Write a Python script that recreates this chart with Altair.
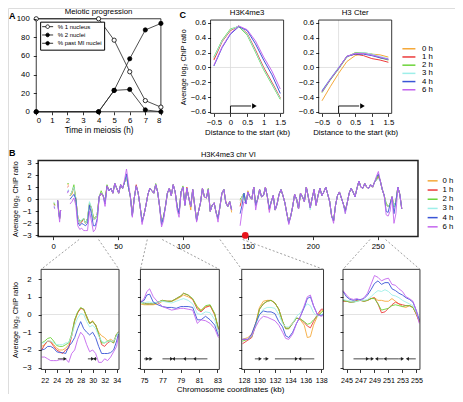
import altair as alt
import pandas as pd

W, H = 447, 386

# ---------------------------------------------------------------- data
TIMES = ["0 h", "1 h", "2 h", "3 h", "4 h", "6 h"]
TIME_COLORS = ["#F5A93A", "#EC3B3B", "#6CD43A", "#9EEFE9", "#3A55D6", "#C466EE"]

# Panel A : meiotic progression
A_TIME = [0, 4, 5, 6, 7, 8]
A_ONE = [100, 100, 77, 43, 12, 5]
A_TWO = [0, 0, 23, 24, 2, 0]
A_PAST = [0, 0, 23, 57, 88, 95]
A_SERIES = ["% 1 nucleus", "% 2 nuclei", "% past MI nuclei"]
A_FILLS = ["white", "black", "black"]
A_TICKS_X = [0, 1, 2, 3, 4, 5, 6, 7, 8]
A_TICKS_Y = [0, 20, 40, 60, 80, 100]

# Panel C : metagene profiles
C_X = [-0.5, -0.25, 0, 0.25, 0.5, 0.75, 1.0, 1.25, 1.5]
C_K4 = {
    "0 h": [0.12, 0.36, 0.50, 0.56, 0.45, 0.22, -0.02, -0.22, -0.42],
    "1 h": [0.10, 0.35, 0.50, 0.56, 0.46, 0.24, 0.00, -0.20, -0.41],
    "2 h": [0.14, 0.37, 0.52, 0.55, 0.44, 0.21, -0.03, -0.23, -0.43],
    "3 h": [0.13, 0.36, 0.51, 0.56, 0.45, 0.22, -0.02, -0.22, -0.42],
    "4 h": [0.02, 0.27, 0.45, 0.55, 0.50, 0.32, 0.10, -0.10, -0.35],
    "6 h": [0.03, 0.28, 0.46, 0.56, 0.51, 0.36, 0.14, -0.05, -0.29],
}
C_CTER = {
    "0 h": [-0.45, -0.26, -0.08, 0.08, 0.16, 0.19, 0.18, 0.17, 0.14],
    "1 h": [-0.32, -0.16, -0.01, 0.15, 0.18, 0.16, 0.12, 0.10, 0.07],
    "2 h": [-0.34, -0.17, -0.02, 0.14, 0.20, 0.20, 0.18, 0.13, 0.10],
    "3 h": [-0.31, -0.15, 0.00, 0.15, 0.19, 0.20, 0.18, 0.15, 0.12],
    "4 h": [-0.32, -0.16, -0.01, 0.15, 0.18, 0.18, 0.16, 0.13, 0.11],
    "6 h": [-0.33, -0.16, -0.01, 0.15, 0.19, 0.19, 0.17, 0.14, 0.11],
}
C_TICKS_X = [-0.5, 0, 0.5, 1, 1.5]
C_TICKS_Y = [-0.6, -0.4, -0.2, 0, 0.2, 0.4, 0.6]
C_TSS_X = [0, 0, 0.62]
C_TSS_Y = [-0.62, -0.52, -0.52]
C_TSS_HEAD = 0.72

# Panel B : whole chromosome VI profile
BM_KB = [0.5, 1.5, 3.5, 4.3, 5.0, 5.8, 11.0, 12.0,
         13, 14.5, 16, 17.5, 19, 20.5, 22, 23.5, 25, 26.5, 28, 29.5, 31, 32.5, 34, 35.5,
         37, 38.5, 40, 41.5, 43, 44.5, 46, 47.5, 49, 50.5, 52, 53.5, 55, 56.5, 58, 59.5,
         61, 62.5, 64, 65.5, 67, 68.5, 70, 71.5, 73, 74.5, 76, 77.5, 79, 80.5, 82, 83.5,
         85, 86.5, 88, 89.5, 91, 92.5, 94, 95.5, 97, 98.5, 100, 101.5, 103, 104.5, 106,
         107.5, 109, 110.5, 112, 113.5, 115, 116.5, 118, 119.5, 121, 122.5, 124, 125.5,
         127, 128.5, 130, 131.5, 133, 134.5, 136, 137.5,
         144, 145.5, 147, 148.5, 150, 151.5, 153, 154.5, 156, 157.5, 159, 160.5, 162,
         163.5, 165, 166.5, 168, 169.5, 171, 172.5, 174, 175.5, 177, 178.5, 180, 181.5,
         183, 184.5, 186, 187.5, 189, 190.5, 192, 193.5, 195, 196.5, 198, 199.5, 201,
         202.5, 204, 205.5, 207, 208.5, 210, 211.5, 213, 214.5, 216, 217.5, 219, 220.5,
         222, 223.5, 225, 226.5, 228, 229.5, 231, 232.5, 234, 235.5, 237, 238.5, 240,
         241.5, 243, 244.5, 246, 247.5, 249, 250.5, 252, 253.5, 255, 256.5, 258, 259.5,
         261, 262.5, 264, 265.5, 267, 268.5]
BM_BASE = [-0.4, -0.5, -0.1, -1.0, -1.6, -0.9, 0.9, 1.1,
           0.3, 0.6, 1.0, 0.0, -1.5, -2.0, -1.8, -1.6, -2.0, -1.6, -0.4, -0.7, -1.5, -1.6, -1.2, 0.2,
           0.5, 0.3, -0.2, 1.1, 0.7, 0.9, 0.5, 1.3, 0.9, 0.5, 1.2, 0.9, 1.4, 1.9, 1.0, 0.2,
           -1.3, 0.1, 1.1, 0.5, -0.6, -1.8, -1.3, -0.5, 0.4, 0.9, 0.7, 0.5, 1.2, 0.6, -0.6, -1.9,
           -1.5, -0.6, 0.5, 0.9, 0.3, 1.2, 0.6, -0.6, -1.2, 0.6, 1.0, -0.5, 0.9, 0.1, -0.6,
           0.8, -0.5, -1.7, -1.0, -0.3, 0.9, 0.2, 0.1, 0.8, -1.0, -0.5, -0.3, -1.1,
           -1.6, -0.6, 0.5, 0.8, -0.3, -0.6, -0.2, -0.9,
           -0.6, 0.2, 0.5, -0.4, 0.6, 0.2, 0.0, 1.0, -0.5, 0.0, 0.8, 0.2, 0.3,
           1.0, 0.2, -0.8, -0.2, 0.3, -0.9, -0.4, 0.4, 0.8, 0.3, -0.3, -1.2, -1.9,
           -1.4, -0.6, 0.4, 0.0, -0.8, 0.5, 0.2, -0.2, 1.0, 0.2, -0.7, 0.1, 0.8,
           -0.5, 0.3, 0.9, 0.3, 0.6, 1.0, 0.4, -0.2, -1.4, -1.8, -0.5, 0.3, 0.6,
           0.1, -0.4, -1.0, -0.3, 0.5, 0.9, 0.6, 0.2, 0.9, 1.5, 1.0, 0.9, 1.3,
           1.0, 0.9, 1.2, 1.0, 1.4, 1.6, 2.0, 1.5, 0.8, 0.3, -0.5, -0.6, -0.4,
           0.2, -0.6, -0.2, 1.0, 0.4, -0.8]
BM_BREAKS = [2.5, 8.0, 12.5, 140.0]
BM_OVERRIDES = {
    "0 h": {0.5: -0.35, 1.5: -0.45, 11.0: 1.2, 12.0: 1.2, 14.5: 0.4, 37: 0.4, 106: -0.9,
            137.5: -1.1, 144: -0.1, 150: 0.7},
    "1 h": {0.5: -0.45, 1.5: -0.5, 11.0: 1.0, 22: -1.9, 31: -1.7, 64: 1.2, 103: 1.0,
            133: -0.2, 166.5: -0.9, 250.5: 1.8},
    "2 h": {0.5: -0.3, 11.0: 1.3, 12.0: 1.3, 16: 1.2, 20.5: -1.8, 28: -0.3, 37: 0.7,
            41.5: 1.2, 79: 1.3, 100: 1.1, 119.5: 0.9, 144: 0.0, 256.5: -0.3},
    "3 h": {0.5: -0.25, 1.5: -0.35, 11.0: 0.7, 12.0: 0.8, 22: -1.7, 28: -0.2, 31: -1.7,
            41.5: 0.9, 61: -1.4, 83.5: -2.0, 144: -0.3, 198: -0.9, 225: -1.2, 250.5: 1.7},
    "4 h": {0.5: -0.6, 1.5: -0.7, 4.3: -1.1, 11.0: 0.6, 12.0: 0.7, 13: 0.0, 14.5: 0.2,
            16: 0.4, 19: -1.9, 20.5: -2.2, 22: -2.0, 23.5: -2.1, 25: -2.2, 26.5: -2.0,
            28: -0.5, 29.5: -1.2, 31: -2.2, 32.5: -2.2, 34: -1.6, 40: -0.4, 56.5: 2.1,
            61: -1.4, 68.5: -1.9, 83.5: -2.1, 110.5: -1.8, 144: -1.2, 145.5: -0.5,
            181.5: -2.0, 249: 1.8, 250.5: 2.1, 256.5: -1.0, 258: -1.1, 262.5: -1.2},
    "6 h": {0.5: -0.7, 1.5: -0.8, 4.3: -1.2, 5.0: -1.9, 11.0: 0.5, 12.0: 0.7, 13: -0.4,
            14.5: -0.2, 16: 0.1, 17.5: -0.5, 19: -2.2, 20.5: -2.5, 22: -2.4, 23.5: -2.6,
            25: -2.6, 26.5: -2.6, 28: -1.0, 29.5: -1.8, 31: -2.7, 32.5: -2.5, 34: -1.8,
            40: -0.6, 55: 1.6, 56.5: 2.5, 58: 1.4, 61: -1.5, 68.5: -2.1, 83.5: -2.3,
            85: -1.8, 95.5: -0.9, 97: -1.5, 110.5: -1.9, 127: -1.9, 144: -2.2, 145.5: -1.0,
            147: -0.2, 156: -0.9, 166.5: -1.1, 181.5: -2.1, 216: -2.0, 225: -1.2, 249: 1.9,
            250.5: 2.3, 256.5: -1.3, 258: -1.4, 259.5: -1.0, 262.5: -2.0, 264: -1.2},
}
BM_TICKS_X = [0, 50, 100, 150, 200, 250]
BM_TICKS_Y = [-3, -2, -1, 0, 1, 2, 3]
CENTROMERE_KB = [148]
CENTROMERE_Y = [-3]

# Zoomed regions
Z1_KB = [21.5, 22, 22.5, 23, 23.5, 24, 24.5, 25, 25.5, 26, 26.5, 27, 27.5, 28, 28.5, 29,
         29.5, 30, 30.5, 31, 31.5, 32, 32.5, 33, 33.5, 34, 34.3]
Z1 = {
    "0 h": [-1.8, -1.7, -1.5, -1.5, -1.7, -1.9, -2.0, -2.0, -1.9, -1.7, -1.2, -0.4, 0.1, 0.35,
            0.3, -0.2, -0.5, -0.35, -0.6, -1.0, -1.2, -1.3, -1.5, -1.4, -1.5, -1.1, -1.0],
    "1 h": [-2.0, -1.7, -1.5, -1.55, -1.8, -2.0, -2.1, -2.2, -2.0, -1.9, -1.2, -0.3, 0.1, 0.35,
            0.3, -0.1, -0.5, -0.4, -0.6, -1.1, -1.7, -1.8, -1.6, -1.5, -1.6, -1.1, -1.0],
    "2 h": [-1.6, -1.5, -1.35, -1.3, -1.5, -1.75, -1.8, -1.8, -1.7, -1.6, -1.1, -0.3, 0.15, 0.4,
            0.3, -0.1, -0.5, -0.4, -0.6, -1.1, -1.6, -1.6, -1.5, -1.5, -1.6, -1.1, -1.0],
    "3 h": [-1.6, -1.6, -1.5, -1.5, -1.6, -1.7, -1.7, -1.7, -1.6, -1.6, -1.2, -0.6, -0.2, 0.05,
            0.0, -0.4, -0.7, -0.6, -0.8, -1.2, -1.5, -1.6, -1.5, -1.5, -1.5, -1.2, -1.0],
    "4 h": [-2.0, -1.95, -1.8, -1.8, -1.9, -2.1, -2.15, -2.15, -2.2, -1.8, -1.6, -1.3, -0.8, -0.4,
            -0.8, -1.0, -1.15, -1.0, -1.3, -1.8, -2.2, -2.2, -2.2, -2.15, -2.0, -1.5, -1.1],
    "6 h": [-2.4, -2.4, -2.5, -2.6, -2.6, -2.6, -2.55, -2.55, -2.5, -2.7, -2.2, -2.0, -1.4, -1.0,
            -1.2, -1.7, -2.1, -2.0, -2.2, -2.7, -2.7, -2.5, -2.6, -2.4, -2.1, -1.8, -1.2],
}
Z2_KB = [74.6, 75, 75.3, 75.6, 76, 76.5, 77, 77.5, 78, 78.5, 79, 79.3, 79.8, 80.3, 80.8, 81.2,
         81.7, 82.2, 82.7, 83.1]
Z2 = {
    "0 h": [0.6, 0.55, 0.55, 0.55, 0.55, 0.6, 0.75, 0.75, 0.75, 0.85, 1.0, 1.1, 1.0, 0.85, 0.45,
            0.25, 0.45, 0.5, 0.0, -0.8],
    "1 h": [0.75, 0.65, 0.6, 0.6, 0.6, 0.7, 0.8, 0.75, 0.75, 0.9, 1.05, 1.2, 1.1, 0.85, 0.3,
            0.15, 0.4, 0.5, 0.0, -0.85],
    "2 h": [0.7, 0.6, 0.6, 0.6, 0.6, 0.7, 0.8, 0.75, 0.75, 0.9, 1.05, 1.2, 1.1, 0.9, 0.4, 0.2,
            0.5, 0.55, 0.05, -0.8],
    "3 h": [0.7, 0.65, 0.7, 0.7, 0.65, 0.7, 0.75, 0.7, 0.65, 0.75, 0.85, 0.9, 0.8, 0.6, 0.05,
            0.0, 0.15, 0.1, -0.3, -1.0],
    "4 h": [0.7, 0.8, 1.1, 1.15, 0.7, 0.55, 0.45, 0.4, 0.4, 0.35, 0.45, 0.45, 0.45, 0.4, -0.3,
            -0.3, -0.1, -0.3, -0.6, -1.2],
    "6 h": [0.7, 0.9, 1.3, 1.45, 1.0, 0.7, 0.45, 0.35, 0.25, 0.3, 0.35, 0.35, 0.3, 0.25, -0.5,
            -0.3, -0.35, -0.5, -0.8, -1.3],
}
Z3_KB = [127.8, 128.5, 129, 129.5, 130, 130.5, 131, 131.5, 132, 132.5, 133, 133.4, 133.8,
         134.3, 134.8, 135.3, 135.8, 136.2, 136.6, 137, 137.5, 138, 138.25]
Z3 = {
    "0 h": [-1.4, -1.3, -1.1, -0.5, 0.4, 0.75, 0.8, 0.8, 0.65, 0.3, -0.4, -0.75, -0.75, -0.45,
            -0.2, -0.3, -0.6, -1.3, -1.25, -0.6, -0.1, 0.2, 0.25],
    "1 h": [-1.65, -1.45, -1.3, -0.6, 0.3, 0.6, 0.75, 0.8, 0.65, 0.3, -0.4, -0.8, -0.8, -0.5,
            -0.2, -0.25, -0.45, -0.65, -0.75, -0.4, 0.0, 0.3, 0.3],
    "2 h": [-1.5, -1.4, -1.25, -0.6, 0.3, 0.6, 0.75, 0.8, 0.65, 0.3, -0.4, -0.8, -0.8, -0.5,
            -0.2, -0.25, -0.4, -0.55, -0.5, -0.3, -0.1, 0.1, 0.2],
    "3 h": [-1.4, -1.4, -1.2, -0.6, 0.0, 0.3, 0.4, 0.4, 0.35, 0.0, -0.5, -0.7, -0.7, -0.5, -0.1,
            0.1, 0.4, 0.6, 0.5, 0.1, -0.1, 0.0, 0.05],
    "4 h": [-1.4, -1.4, -1.1, -0.5, 0.0, 0.2, 0.15, 0.15, 0.05, -0.4, -0.7, -1.2, -1.3, -1.0,
            -0.5, -0.1, 0.4, 0.9, 1.0, 0.5, 0.0, -0.05, 0.0],
    "6 h": [-1.4, -1.4, -1.2, -0.7, -0.3, -0.1, -0.15, -0.25, -0.35, -0.6, -1.0, -1.35, -1.4,
            -1.1, -0.5, -0.1, 0.5, 1.0, 1.1, 0.5, 0.0, -0.1, -0.05],
}
Z4_KB = [244.5, 245, 245.5, 246, 246.5, 247, 247.5, 248, 248.5, 249, 249.5, 250, 250.5, 251,
         251.5, 252, 252.5, 253, 253.5, 254, 254.5, 255, 255.4]
Z4 = {
    "0 h": [0.8, 0.75, 0.75, 0.7, 0.8, 0.8, 0.75, 0.8, 0.9, 0.95, 0.8, 0.8, 0.75, 0.75, 0.9,
            0.75, 0.6, 0.45, 0.4, 0.5, 0.4, 0.0, -0.4],
    "1 h": [0.75, 0.75, 0.7, 0.7, 0.8, 0.8, 0.75, 0.8, 0.9, 0.95, 0.6, 0.1, 0.15, 0.35, 0.55,
            0.7, 0.6, 0.55, 0.5, 0.5, 0.4, 0.0, -0.4],
    "2 h": [0.8, 0.75, 0.7, 0.7, 0.75, 0.8, 0.75, 0.8, 0.9, 0.9, 0.6, 0.25, 0.3, 0.35, 0.5,
            0.55, 0.5, 0.45, 0.5, 0.5, 0.4, 0.05, -0.35],
    "3 h": [0.85, 0.8, 0.75, 0.7, 0.75, 0.8, 0.8, 0.85, 1.0, 1.2, 1.35, 1.3, 1.4, 1.3, 1.1,
            1.05, 0.95, 0.8, 0.7, 0.6, 0.5, 0.1, -0.3],
    "4 h": [1.3, 1.0, 0.85, 0.8, 0.85, 0.85, 0.9, 1.1, 1.4, 1.75, 1.9, 1.7, 1.8, 1.8, 1.45,
            1.35, 1.2, 1.1, 0.95, 0.85, 0.7, 0.2, -0.3],
    "6 h": [1.35, 1.1, 0.9, 0.85, 0.9, 0.8, 0.95, 1.2, 1.7, 2.2, 2.1, 1.9, 2.0, 2.05, 1.7,
            1.65, 1.45, 1.3, 1.0, 0.9, 0.75, 0.2, -0.5],
}
Z_TICKS_X = [[22, 24, 26, 28, 30, 32, 34], [75, 77, 79, 81, 83],
             [128, 130, 132, 134, 136, 138], [245, 247, 249, 251, 253, 255]]
Z_TICKS_Y = [-3, -2, -1, 0, 1, 2]
# genes: (panel, start kb, end kb, strand)
GENES = [
    (0, 24.2, 25.4, "+"), (0, 29.2, 30.0, "+"), (0, 30.3, 30.7, "-"),
    (1, 75.0, 75.35, "+"), (1, 75.35, 75.75, "+"), (1, 77.0, 78.0, "+"), (1, 78.2, 79.3, "-"),
    (1, 79.4, 80.4, "-"), (1, 80.5, 81.9, "-"),
    (2, 129.4, 130.1, "+"), (2, 130.5, 131.0, "+"), (2, 132.0, 134.8, "+"), (2, 135.2, 137.1, "-"),
    (3, 246.0, 248.0, "+"), (3, 248.1, 248.7, "+"), (3, 249.3, 250.3, "-"), (3, 250.5, 252.4, "-"),
    (3, 252.4, 253.0, "+"), (3, 253.7, 254.9, "-"),
]
GENE_Y = -2.5
# windows of the whole-chromosome axis that are enlarged below
ZOOM_WINDOWS_KB = [(20, 35), (72.5, 84), (128.5, 146), (244, 256)]

# ---------------------------------------------------------------- geometry
# panel boxes are measured in reference-picture pixels, then fitted into the drawable area
SX, SY = W / 459.0, H / 401.0


def CX(x):
    return (x - 2.0) * SX


def CY(y):
    return (y - 0.5) * SY


A_BOX = dict(xd=[0, 8], xr=(31, 159), yd=[0, 100], yr=(108.3, 11.7))
CL_BOX = dict(xd=[-0.6, 1.6], xr=(210, 285), yd=[-0.62, 0.64], yr=(110, 13))
CR_BOX = dict(xd=[-0.6, 1.6], xr=(321, 396), yd=[-0.62, 0.64], yr=(110, 13))
BM_BOX = dict(xd=[-11.5, 281], xr=(33, 423), yd=[-3.1, 3.2], yr=(238, 159))
Z_BOXES = [
    dict(xd=[21.4, 34.4], xr=(36, 116), yd=[-3.1, 2.55], yr=(376, 272)),
    dict(xd=[74.6, 83.2], xr=(138, 219), yd=[-3.1, 2.55], yr=(376, 272)),
    dict(xd=[127.7, 138.3], xr=(242, 326), yd=[-3.1, 2.55], yr=(376, 272)),
    dict(xd=[244.5, 255.5], xr=(346, 425), yd=[-3.1, 2.55], yr=(376, 272)),
]

FONT = "Liberation Sans"


def xscale(b):
    return alt.Scale(domain=b["xd"], range=[CX(b["xr"][0]), CX(b["xr"][1])], nice=False, zero=False)


def yscale(b):
    return alt.Scale(domain=b["yd"], range=[CY(b["yr"][0]), CY(b["yr"][1])], nice=False, zero=False)


def axis_props(**kw):
    base = dict(domain=False, grid=False, tickSize=3, tickColor="black", tickWidth=0.8,
                labelFontSize=7.8, labelColor="black", labelOverlap=False,
                labelFont=FONT, titleFont=FONT, titleFontWeight="normal",
                titleColor="black", zindex=2)
    base.update(kw)
    return base


def xaxis(b, values, title="", pad=2, **kw):
    opts = dict(titleFontSize=8.2, titlePadding=2, labelPadding=pad)
    opts.update(kw)
    return alt.Axis(orient="bottom", offset=CY(b["yr"][0]) - H, values=values, title=title,
                    **axis_props(**opts))


def yaxis(b, values, title="", pad=2, **kw):
    opts = dict(titleFontSize=7.3, titlePadding=3, labelPadding=pad)
    opts.update(kw)
    return alt.Axis(orient="left", offset=-CX(b["xr"][0]), values=values, title=title,
                    **axis_props(**opts))


def frame(b, sw=0.9, color="#222222"):
    df = pd.DataFrame([{"x": b["xd"][0], "x2": b["xd"][1], "y": b["yd"][0], "y2": b["yd"][1]}])
    return alt.Chart(df).mark_rect(fill="transparent", stroke=color, strokeWidth=sw).encode(
        x=alt.X("x:Q", scale=xscale(b), axis=None), x2="x2",
        y=alt.Y("y:Q", scale=yscale(b), axis=None), y2="y2")


def hzero(b, color="#DADADA"):
    df = pd.DataFrame([{"x": b["xd"][0], "x2": b["xd"][1], "y": 0}])
    return alt.Chart(df).mark_rule(color=color, strokeWidth=0.8).encode(
        x=alt.X("x:Q", scale=xscale(b), axis=None), x2="x2",
        y=alt.Y("y:Q", scale=yscale(b), axis=None))


def vzero(b, color="#DADADA"):
    df = pd.DataFrame([{"x": 0, "y": b["yd"][0], "y2": b["yd"][1]}])
    return alt.Chart(df).mark_rule(color=color, strokeWidth=0.8).encode(
        x=alt.X("x:Q", scale=xscale(b), axis=None),
        y=alt.Y("y:Q", scale=yscale(b), axis=None), y2="y2")


def label(b, x, y, text, **mk):
    df = pd.DataFrame([{"x": x, "y": y, "t": text}])
    return alt.Chart(df).mark_text(font=FONT, color="black", **mk).encode(
        x=alt.X("x:Q", scale=xscale(b), axis=None),
        y=alt.Y("y:Q", scale=yscale(b), axis=None), text="t:N")


def long_df(xs, d):
    rows = []
    for t in TIMES:
        for x, v in zip(xs, d[t]):
            rows.append({"x": x, "y": v, "t": t, "seg": 0})
    return pd.DataFrame(rows)


def time_lines(df, b, xax, yax, legend, sw=1.0):
    return alt.Chart(df).mark_line(strokeWidth=sw, strokeJoin="round").encode(
        x=alt.X("x:Q", scale=xscale(b), axis=xax),
        y=alt.Y("y:Q", scale=yscale(b), axis=yax),
        color=alt.Color("t:N", scale=alt.Scale(domain=TIMES, range=TIME_COLORS), legend=legend),
        detail="seg:N")


def time_legend(px, py, half_len, lab_off, sym_off):
    return alt.Legend(orient="none", legendX=CX(px), legendY=CY(py), title=None,
                      symbolType="M-2,0H2", symbolSize=half_len * half_len,
                      symbolStrokeWidth=1.5, labelFontSize=7.8, labelFont=FONT,
                      labelColor="black", rowPadding=0.2, padding=0,
                      symbolOffset=sym_off, labelOffset=lab_off)


layers = []

# ---------------------------------------------------------------- panel A
a_rows = []
for s, vals in zip(A_SERIES, [A_ONE, A_TWO, A_PAST]):
    for t, v in zip(A_TIME, vals):
        a_rows.append({"x": t, "y": v, "s": s})
a_df = pd.DataFrame(a_rows)

a_lines = alt.Chart(a_df).mark_line(color="#222222", strokeWidth=0.8).encode(
    x=alt.X("x:Q", scale=xscale(A_BOX), axis=xaxis(A_BOX, A_TICKS_X, "Time in meiosis (h)", pad=1.5)),
    y=alt.Y("y:Q", scale=yscale(A_BOX), axis=yaxis(A_BOX, A_TICKS_Y, pad=4)),
    detail="s:N")
a_points = alt.Chart(a_df).mark_point(shape="circle", filled=True, size=18, stroke="black",
                                      strokeWidth=0.8, opacity=1).encode(
    x=alt.X("x:Q", scale=xscale(A_BOX), axis=None),
    y=alt.Y("y:Q", scale=yscale(A_BOX), axis=None),
    fill=alt.Fill("s:N", scale=alt.Scale(domain=A_SERIES, range=A_FILLS),
                  legend=alt.Legend(orient="none", legendX=CX(35), legendY=CY(14.7), title=None,
                                    symbolType="M-3,0H-1M1,0H3M1,0A1,1,0,1,1,-1,0A1,1,0,1,1,1,0",
                                    symbolSize=13.4, symbolStrokeColor="black",
                                    symbolStrokeWidth=0.8, labelFontSize=6, labelFont=FONT,
                                    labelColor="black", rowPadding=0.3, padding=2,
                                    symbolOffset=2.5, labelOffset=7, strokeColor="black",
                                    fillColor="white")))
layers += [
    frame(A_BOX), a_lines, a_points,
    label(A_BOX, 4, 100, "Meiotic progression", fontSize=7.8, dy=CY(5) - CY(11.7)),
    label(A_BOX, 0, 100, "A", fontSize=9, fontWeight="bold", align="left",
          dx=CX(3) - CX(31), dy=CY(8.5) - CY(11.7)),
]

# ---------------------------------------------------------------- panel C


def c_panel(b, data, title, with_y_title, with_legend):
    df = long_df(C_X, data)
    yax = yaxis(b, C_TICKS_Y, "Average log\u2082 ChIP ratio" if with_y_title else "", pad=2,
                format=".1f")
    leg = time_legend(407, 38.7, 6.5, 9, 2.5) if with_legend else None
    lines = time_lines(df, b,
                       xaxis(b, C_TICKS_X, "Distance to the start (kb)", pad=2, format="~g",
                             titleFontSize=7.8),
                       yax, leg, sw=1.0)
    tss = pd.DataFrame({"x": C_TSS_X, "y": C_TSS_Y, "o": [0, 1, 2]})
    tss_line = alt.Chart(tss).mark_line(color="black", strokeWidth=0.9).encode(
        x=alt.X("x:Q", scale=xscale(b), axis=None), y=alt.Y("y:Q", scale=yscale(b), axis=None),
        order="o:Q")
    head = pd.DataFrame({"x": [C_TSS_HEAD], "y": [C_TSS_Y[-1]]})
    tss_head = alt.Chart(head).mark_point(shape="triangle-right", filled=True, size=28,
                                          color="black", opacity=1).encode(
        x=alt.X("x:Q", scale=xscale(b), axis=None), y=alt.Y("y:Q", scale=yscale(b), axis=None))
    return [vzero(b), hzero(b), lines, tss_line, tss_head, frame(b),
            label(b, 0.5, b["yd"][1], title, fontSize=7.8, dy=CY(5.5) - CY(13))]


layers += c_panel(CL_BOX, C_K4, "H3K4me3", True, True)
layers.append(label(CL_BOX, -0.6, 0.64, "C", fontSize=9, fontWeight="bold", align="left",
                    dx=CX(178) - CX(210), dy=CY(8) - CY(13)))
layers += c_panel(CR_BOX, C_CTER, "H3 Cter", False, False)

# ---------------------------------------------------------------- panel B main
bm_rows = []
for t in TIMES:
    ov = BM_OVERRIDES[t]
    for kb, v in zip(BM_KB, BM_BASE):
        seg = sum(1 for br in BM_BREAKS if kb > br)
        bm_rows.append({"x": kb, "y": ov.get(kb, v), "t": t, "seg": seg})
bm_df = pd.DataFrame(bm_rows)

bm_lines = time_lines(
    bm_df, BM_BOX,
    xaxis(BM_BOX, BM_TICKS_X, "", pad=2.5),
    yaxis(BM_BOX, BM_TICKS_Y, "Average log\u2082 ChIP ratio", pad=4, format="d"),
    time_legend(433, 176, 5, 6, 1), sw=0.9)
cen = alt.Chart(pd.DataFrame({"x": CENTROMERE_KB, "y": CENTROMERE_Y})).mark_circle(
    color="#E8141B", size=45, opacity=1).encode(
    x=alt.X("x:Q", scale=xscale(BM_BOX), axis=None), y=alt.Y("y:Q", scale=yscale(BM_BOX), axis=None))
layers += [
    hzero(BM_BOX), bm_lines, frame(BM_BOX, sw=1.5, color="#222222"), cen,
    label(BM_BOX, 135, 3.2, "H3K4me3 chr VI", fontSize=7.5, dy=CY(153) - CY(159)),
    label(BM_BOX, -11.5, 3.2, "B", fontSize=9, fontWeight="bold", align="left",
          dx=CX(3) - CX(33), dy=CY(151) - CY(159)),
]

# ---------------------------------------------------------------- zoom panels
for i, (b, kbs, d) in enumerate(zip(Z_BOXES, [Z1_KB, Z2_KB, Z3_KB, Z4_KB], [Z1, Z2, Z3, Z4])):
    df = long_df(kbs, d)
    if i == 0:
        yax = yaxis(b, Z_TICKS_Y, "Average log\u2082 ChIP ratio", pad=7, format="d")
    else:
        yax = yaxis(b, Z_TICKS_Y, "", labels=False)
    if i == 1:
        xax = xaxis(b, Z_TICKS_X[i], "Chromosome coordinates (kb)", pad=4, titleX=CX(230),
                    titleFontSize=8, labelFontSize=7.1)
    else:
        xax = xaxis(b, Z_TICKS_X[i], "", pad=4, labelFontSize=7.1)
    lines = time_lines(df, b, xax, yax, None, sw=0.9)
    g = [gg for gg in GENES if gg[0] == i]
    gdf = pd.DataFrame({
        "s": [gg[1] for gg in g], "e": [gg[2] for gg in g], "y": [GENE_Y] * len(g),
        "hx": [gg[2] if gg[3] == "+" else gg[1] for gg in g],
        "shape": ["triangle-right" if gg[3] == "+" else "triangle-left" for gg in g],
    })
    gene_lines = alt.Chart(gdf).mark_rule(color="#666666", strokeWidth=1.2).encode(
        x=alt.X("s:Q", scale=xscale(b), axis=None), x2="e",
        y=alt.Y("y:Q", scale=yscale(b), axis=None))
    gene_heads = alt.Chart(gdf).mark_point(filled=True, size=13, color="#222222", opacity=1).encode(
        x=alt.X("hx:Q", scale=xscale(b), axis=None), y=alt.Y("y:Q", scale=yscale(b), axis=None),
        shape=alt.Shape("shape:N", scale=None))
    layers += [hzero(b), lines, gene_lines, gene_heads, frame(b, sw=0.9)]

# ---------------------------------------------------------------- connectors (dashed)


def bm_ref_px(kb):
    x0, x1 = BM_BOX["xr"]
    d0, d1 = BM_BOX["xd"]
    return x0 + (kb - d0) / (d1 - d0) * (x1 - x0)


con_rows = []
for (k0, k1), b in zip(ZOOM_WINDOWS_KB, Z_BOXES):
    con_rows.append({"x": CX(bm_ref_px(k0)), "y": CY(241), "x2": CX(b["xr"][0]), "y2": CY(b["yr"][1])})
    con_rows.append({"x": CX(bm_ref_px(k1)), "y": CY(241), "x2": CX(b["xr"][1]), "y2": CY(b["yr"][1])})
con = alt.Chart(pd.DataFrame(con_rows)).mark_rule(color="#777777", strokeWidth=0.7,
                                                 strokeDash=[2, 2]).encode(
    x=alt.X("x:Q", scale=alt.Scale(domain=[0, W], range=[0, W], nice=False, zero=False), axis=None),
    x2="x2",
    y=alt.Y("y:Q", scale=alt.Scale(domain=[0, H], range=[0, H], nice=False, zero=False), axis=None),
    y2="y2")
layers.append(con)

chart = alt.layer(*layers).resolve_scale(
    x="independent", y="independent", color="independent", fill="independent", shape="independent"
).resolve_axis(x="independent", y="independent").resolve_legend(
    color="independent", fill="independent", shape="independent"
).properties(
    width=W, height=H, padding=0, autosize=alt.AutoSizeParams(type="none")
).configure_view(stroke=None).configure(font=FONT)

chart.save("out.html", embed_options={"renderer": "svg", "actions": False})
